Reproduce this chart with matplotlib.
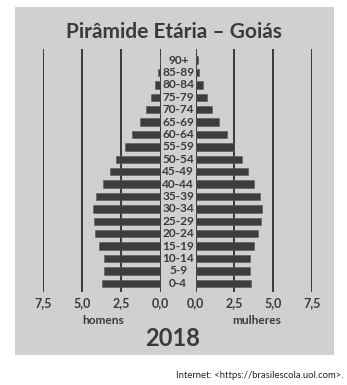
import matplotlib
matplotlib.use("Agg")
import matplotlib.pyplot as plt
from matplotlib.patches import Rectangle
from matplotlib.transforms import blended_transform_factory

age_groups = ["0-4", "5-9", "10-14", "15-19", "20-24", "25-29", "30-34", "35-39",
              "40-44", "45-49", "50-54", "55-59", "60-64", "65-69", "70-74",
              "75-79", "80-84", "85-89", "90+"]
homens = [3.76, 3.60, 3.63, 3.90, 4.16, 4.25, 4.33, 4.12, 3.67, 3.20, 2.82,
          2.29, 1.80, 1.32, 0.93, 0.62, 0.36, 0.17, 0.05]
mulheres = [3.59, 3.48, 3.50, 3.76, 4.05, 4.22, 4.31, 4.16, 3.80, 3.35, 3.01,
            2.46, 2.00, 1.50, 1.06, 0.70, 0.45, 0.21, 0.12]
ticks = [0.0, 2.5, 5.0, 7.5]
tick_labels = ["0,0", "2,5", "5,0", "7,5"]

W, H = 347, 385
fig = plt.figure(figsize=(W / 100, H / 100), dpi=100)
fig.patch.set_facecolor("white")

FONT = ["Lato", "DejaVu Sans"]
TXT = "#3a3a3a"
BAR = "#3d3d3d"
LINE = "#2e2e2e"

# gray panel
fig.patches.append(Rectangle((15 / W, 1 - 355 / H), 319 / W, 348 / H,
                             transform=fig.transFigure, facecolor="#d0d0d0",
                             edgecolor="none", zorder=-10))

bottom = 1 - 292 / H
height = 243 / H
ax_l = fig.add_axes([42.7 / W, bottom, 118 / W, height])
ax_r = fig.add_axes([195.7 / W, bottom, 116 / W, height])

y = list(range(len(age_groups)))
for ax, vals in ((ax_l, homens), (ax_r, mulheres)):
    ax.set_zorder(1)
    ax.patch.set_visible(False)
    ax.barh(y, vals, height=0.6, color=BAR, edgecolor="#555555", linewidth=0.4, zorder=3)
    for t in ticks:
        ax.axvline(t, color=LINE, lw=1.3, zorder=2)
    ax.set_xlim(0, 7.5)
    ax.set_ylim(-0.70, 18.89)
    ax.set_yticks([])
    ax.set_xticks(ticks)
    ax.set_xticklabels(tick_labels, fontfamily=FONT, fontweight="bold",
                       fontsize=9, color=TXT)
    ax.tick_params(axis="x", length=0, pad=4)
    for s in ax.spines.values():
        s.set_visible(False)
ax_l.invert_xaxis()

tr = blended_transform_factory(fig.transFigure, ax_r.transData)
for yi, lab in zip(y, age_groups):
    fig.text(178.2 / W, yi, lab, transform=tr, ha="center", va="center",
             fontfamily=FONT, fontweight="bold", fontsize=8.6, color=TXT, zorder=5)

fig.text(174 / W, 1 - 32 / H, "Pirâmide Etária – Goiás", ha="center", va="center",
         fontfamily=FONT, fontweight="bold", fontsize=15, color=TXT)
fig.text(103 / W, 1 - 320 / H, "homens", ha="center", va="center",
         fontfamily=FONT, fontweight="bold", fontsize=8.6, color=TXT)
fig.text(257 / W, 1 - 320 / H, "mulheres", ha="center", va="center",
         fontfamily=FONT, fontweight="bold", fontsize=8.6, color=TXT)
fig.text(173 / W, 1 - 339 / H, "2018", ha="center", va="center",
         fontfamily=FONT, fontweight="bold", fontsize=17, color=TXT)
fig.text(343 / W, 1 - 375 / H, "Internet: <https://brasilescola.uol.com>.",
         ha="right", va="center", fontfamily=FONT, fontsize=6.8, color="#222222")

fig.savefig("out.png", dpi=100, facecolor="white")
